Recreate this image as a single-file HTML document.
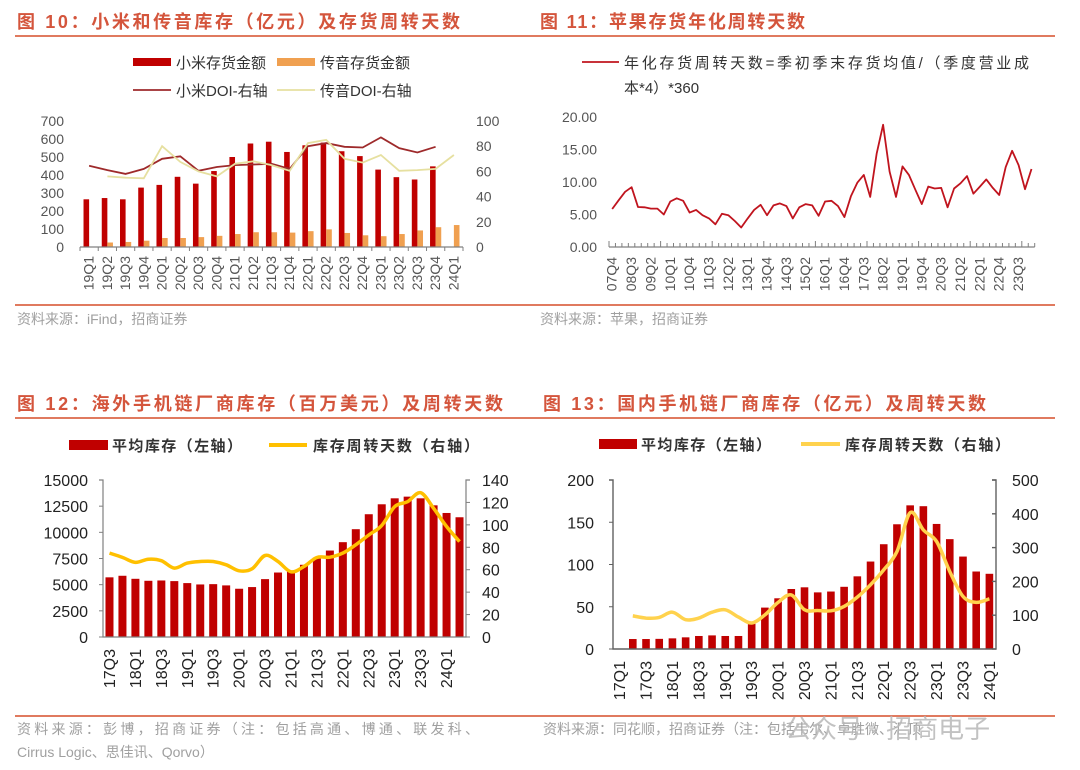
<!DOCTYPE html>
<html><head><meta charset="utf-8">
<style>
html,body{margin:0;padding:0;background:#fff;}
svg{display:block;font-family:"Liberation Sans","Noto Sans CJK SC",sans-serif;}
.ttl{font-size:18px;font-weight:bold;fill:#D4553C;}
.lg{font-size:15px;fill:#333;}
.src{font-size:14px;fill:#A0A0A0;}
.tk{font-size:14px;fill:#555;}
.tk2{font-size:16px;fill:#222;}
</style></head>
<body>
<svg id="chart" width="1080" height="770" viewBox="0 0 1080 770" xmlns="http://www.w3.org/2000/svg">
<rect x="0" y="0" width="1080" height="770" fill="#fff"/>
<!-- Panel 1 static -->
<text class="ttl" x="17" y="28" textLength="443" lengthAdjust="spacing">图 10：小米和传音库存（亿元）及存货周转天数</text>
<line x1="15" y1="36" x2="540" y2="36" stroke="#E07A5F" stroke-width="2"/>
<rect x="133" y="58" width="38" height="8" fill="#C00000"/>
<text class="lg" x="176" y="68">小米存货金额</text>
<rect x="277" y="58" width="38" height="8" fill="#F0A050"/>
<text class="lg" x="320" y="68">传音存货金额</text>
<line x1="133" y1="90" x2="171" y2="90" stroke="#9E2A2B" stroke-width="1.8"/>
<text class="lg" x="176" y="96">小米DOI-右轴</text>
<line x1="277" y1="90" x2="315" y2="90" stroke="#E6E0A0" stroke-width="1.8"/>
<text class="lg" x="320" y="96">传音DOI-右轴</text>
<line x1="15" y1="305" x2="540" y2="305" stroke="#E07A5F" stroke-width="2"/>
<text class="src" x="17" y="324">资料来源：iFind，招商证券</text>
<!-- Panel 2 static -->
<text class="ttl" x="540" y="28" textLength="265" lengthAdjust="spacing">图 11：苹果存货年化周转天数</text>
<line x1="540" y1="36" x2="1055" y2="36" stroke="#E07A5F" stroke-width="2"/>
<line x1="582" y1="62" x2="619" y2="62" stroke="#C0141E" stroke-width="1.8"/>
<text class="lg" x="624" y="68" textLength="405" lengthAdjust="spacing">年化存货周转天数=季初季末存货均值/（季度营业成</text>
<text class="lg" x="624" y="93">本*4）*360</text>
<line x1="540" y1="305" x2="1055" y2="305" stroke="#E07A5F" stroke-width="2"/>
<text class="src" x="540" y="324">资料来源：苹果，招商证券</text>
<!-- Panel 3 static -->
<text class="ttl" x="17" y="410" textLength="486" lengthAdjust="spacing">图 12：海外手机链厂商库存（百万美元）及周转天数</text>
<line x1="15" y1="418" x2="540" y2="418" stroke="#E07A5F" stroke-width="2"/>
<rect x="69" y="440" width="39" height="10" fill="#C00000"/>
<text class="lg" x="112" y="451" font-weight="bold" textLength="130" lengthAdjust="spacing">平均库存（左轴）</text>
<line x1="269" y1="445" x2="307" y2="445" stroke="#FFC000" stroke-width="4"/>
<text class="lg" x="313" y="451" font-weight="bold" textLength="166" lengthAdjust="spacing">库存周转天数（右轴）</text>
<line x1="15" y1="716" x2="540" y2="716" stroke="#E07A5F" stroke-width="2"/>
<text class="src" x="17" y="734" textLength="462" lengthAdjust="spacing">资料来源：彭博，招商证券（注：包括高通、博通、联发科、</text>
<text class="src" x="17" y="757">Cirrus Logic、思佳讯、Qorvo）</text>
<!-- Panel 4 static -->
<text class="ttl" x="543" y="410" textLength="443" lengthAdjust="spacing">图 13：国内手机链厂商库存（亿元）及周转天数</text>
<line x1="540" y1="418" x2="1055" y2="418" stroke="#E07A5F" stroke-width="2"/>
<rect x="599" y="439" width="38" height="10" fill="#C00000"/>
<text class="lg" x="641" y="450" font-weight="bold" textLength="130" lengthAdjust="spacing">平均库存（左轴）</text>
<line x1="801" y1="444" x2="840" y2="444" stroke="#FFD24D" stroke-width="4"/>
<text class="lg" x="845" y="450" font-weight="bold" textLength="165" lengthAdjust="spacing">库存周转天数（右轴）</text>
<line x1="540" y1="716" x2="1055" y2="716" stroke="#E07A5F" stroke-width="2"/>
<text class="src" x="543" y="734">资料来源：同花顺，招商证券（注：包括韦尔、卓胜微、汇顶</text>
<text x="785" y="738" font-size="26" fill="#B8B8B8" opacity="0.85">公众号 · 招商电子</text>
<g id="dyn"></g>
</svg>
<script>
// ---------- Fig 10 data ----------
const p1Cats = ['19Q1','19Q2','19Q3','19Q4','20Q1','20Q2','20Q3','20Q4','21Q1','21Q2','21Q3','21Q4','22Q1','22Q2','22Q3','22Q4','23Q1','23Q2','23Q3','23Q4','24Q1'];
const p1XiaomiInv = [265,272,265,330,345,390,352,422,500,575,585,528,565,580,532,505,430,388,375,448,null];
const p1TranssionInv = [null,25,28,35,50,50,55,62,72,82,82,80,88,98,78,65,60,72,92,110,122];
const p1XiaomiDoi = [64.5,61,58,62,70,72,60.5,63.5,65,65.5,66,62,80,82.5,79.5,79,87,78.5,75,79.5,null];
const p1TranssionDoi = [null,56,55,54.5,80,67.5,60,56,66,68,65,60.5,82.5,85,70,67,73,60.5,61,62,73];
const p1LeftTicks = [0,100,200,300,400,500,600,700];
const p1RightTicks = [0,20,40,60,80,100];
// ---------- Fig 11 data ----------
const p2Values = [5.85,7.2,8.5,9.2,6.15,6.1,5.9,5.9,5.0,7.0,7.5,7.1,5.3,5.7,4.9,4.4,3.5,5.1,4.9,4.0,3.0,4.4,5.7,6.5,4.9,6.4,6.7,6.3,4.4,6.1,6.6,6.4,4.8,
 7.0,7.1,6.3,4.6,7.8,9.9,11.1,7.7,14.4,18.8,11.6,7.7,12.4,11.1,8.8,6.6,9.3,9.0,9.1,6.1,9.0,9.8,10.9,8.2,9.3,10.4,9.1,8.0,12.3,14.8,12.6,8.9,12.0];
const p2StartYear = 2007, p2StartQ = 4;
const p2Ticks = [0,5,10,15,20];
const p2TickLabels = ['0.00','5.00','10.00','15.00','20.00'];
// ---------- Fig 12 data ----------
const p3Cats = ['17Q3','17Q4','18Q1','18Q2','18Q3','18Q4','19Q1','19Q2','19Q3','19Q4','20Q1','20Q2','20Q3','20Q4','21Q1','21Q2','21Q3','21Q4','22Q1','22Q2','22Q3','22Q4','23Q1','23Q2','23Q3','23Q4','24Q1','24Q2'];
const p3Inventory = [5700,5850,5560,5370,5400,5340,5150,5020,5050,4930,4610,4770,5530,6160,6300,6900,7600,8260,9060,10300,11730,12680,13250,13410,13250,12580,11850,11440];
const p3Turnover = [74.8,71,66.5,69.4,68,61.4,65.9,67.3,67.3,64.4,59,60.8,72.7,67.3,58.1,62.9,70.9,71.2,74.8,82.2,91,99.4,116.3,120.7,128.7,114.8,98.5,85.1];
const p3LeftTicks = [0,2500,5000,7500,10000,12500,15000];
const p3RightTicks = [0,20,40,60,80,100,120,140];
// ---------- Fig 13 data ----------
const p4Cats = ['17Q1','17Q2','17Q3','17Q4','18Q1','18Q2','18Q3','18Q4','19Q1','19Q2','19Q3','19Q4','20Q1','20Q2','20Q3','20Q4','21Q1','21Q2','21Q3','21Q4','22Q1','22Q2','22Q3','22Q4','23Q1','23Q2','23Q3','23Q4','24Q1'];
const p4Inventory = [null,11.8,11.8,12,12.6,13.8,15.4,16.1,15.4,15.4,30,49,60,71,73,67,68,73.6,86,103.5,124,147.6,170,169,148,130,109.4,91.7,89];
const p4Turnover = [null,98,91.5,93.5,109,86.6,91.5,109,116,94.5,77,101,138,160,116,114,113,126,153.5,190,234,288,403.5,352,318,229,155.5,138,148.6];
const p4LeftTicks = [0,50,100,150,200];
const p4RightTicks = [0,100,200,300,400,500];

const NS = 'http://www.w3.org/2000/svg';
const root = document.getElementById('dyn');
function mk(tag, attrs, txt){
  const e = document.createElementNS(NS, tag);
  for (const k in attrs) e.setAttribute(k, attrs[k]);
  if (txt !== undefined) e.textContent = txt;
  root.appendChild(e);
  return e;
}
function lin(v, d0, d1, r0, r1){ return r0 + (v - d0) / (d1 - d0) * (r1 - r0); }
function band(i, x0, x1, n){ return x0 + (i + 0.5) * (x1 - x0) / n; }
function polyPath(pts){ return pts.map((p,i)=>(i?'L':'M')+p[0].toFixed(1)+','+p[1].toFixed(1)).join(''); }
function smoothPath(pts){
  if (pts.length < 2) return '';
  let d = 'M'+pts[0][0].toFixed(1)+','+pts[0][1].toFixed(1);
  for (let i=0;i<pts.length-1;i++){
    const p0 = pts[i-1]||pts[i], p1 = pts[i], p2 = pts[i+1], p3 = pts[i+2]||p2;
    const c1 = [p1[0]+(p2[0]-p0[0])/6, p1[1]+(p2[1]-p0[1])/6];
    const c2 = [p2[0]-(p3[0]-p1[0])/6, p2[1]-(p3[1]-p1[1])/6];
    d += 'C'+c1[0].toFixed(1)+','+c1[1].toFixed(1)+' '+c2[0].toFixed(1)+','+c2[1].toFixed(1)+' '+p2[0].toFixed(1)+','+p2[1].toFixed(1);
  }
  return d;
}
function seriesPoints(vals, x0, x1, y0, y1, d0, d1){
  const pts=[]; vals.forEach((v,i)=>{ if(v!==null) pts.push([band(i,x0,x1,vals.length), lin(v,d0,d1,y0,y1)]); }); return pts;
}

// ================= Fig 10 =================
(function(){
  const X0=80, X1=463, Y0=247, Y1=121, n=p1Cats.length, w=(X1-X0)/n;
  p1LeftTicks.forEach(t=>{
    const e = mk('text',{x:64,y:lin(t,0,700,Y0,Y1)+5,'text-anchor':'end',class:'tk'}, String(t));
    
    
  });
  p1RightTicks.forEach(t=>{
    const e = mk('text',{x:476,y:lin(t,0,100,Y0,Y1)+5,class:'tk'}, String(t));
    
    
  });
  p1XiaomiInv.forEach((v,i)=>{
    if(v===null) return;
    const y = lin(v,0,700,Y0,Y1);
    const e = mk('rect',{x:band(i,X0,X1,n)-2.8-2.8,y:y,width:5.6,height:Y0-y,fill:'#C00000'});
    
    
  });
  p1TranssionInv.forEach((v,i)=>{
    if(v===null) return;
    const y = lin(v,0,700,Y0,Y1);
    const e = mk('rect',{x:band(i,X0,X1,n),y:y,width:5.6,height:Y0-y,fill:'#F0A050'});
    
    
  });
  const ax = mk('line',{x1:X0,y1:Y0,x2:X1,y2:Y0,stroke:'#808080','stroke-width':1.2});
  
  
  for(let i=0;i<=n;i++){
    const t = mk('line',{x1:X0+i*w,y1:Y0,x2:X0+i*w,y2:Y0+4,stroke:'#808080','stroke-width':1});
    
    
  }
  p1Cats.forEach((c,i)=>{
    const x = band(i,X0,X1,n)+4.5, y = Y0+9;
    const e = mk('text',{x:x,y:y,transform:'rotate(-90 '+x+' '+y+')','text-anchor':'end',class:'tk','font-size':13}, c);
    
    
  });
  const l1 = mk('path',{d:polyPath(seriesPoints(p1XiaomiDoi,X0,X1,Y0,Y1,0,100)),fill:'none',stroke:'#9E2A2B','stroke-width':1.8});
  
  
  const l2 = mk('path',{d:polyPath(seriesPoints(p1TranssionDoi,X0,X1,Y0,Y1,0,100)),fill:'none',stroke:'#E6E0A0','stroke-width':1.8});
  
  
})();

// ================= Fig 11 =================
(function(){
  const n=p2Values.length, X0=609, X1=609+n*6.45, Y0=247, Y1=117, w=(X1-X0)/n;
  const cats=[]; let yr=p2StartYear, q=p2StartQ;
  for(let i=0;i<n;i++){ cats.push(String(yr%100).padStart(2,'0')+'Q'+q); q++; if(q>4){q=1;yr++;} }
  p2Ticks.forEach((t,k)=>{
    const e = mk('text',{x:597,y:lin(t,0,20,Y0,Y1)+5,'text-anchor':'end',class:'tk'}, p2TickLabels[k]);
    
    
  });
  const ax = mk('line',{x1:X0,y1:Y0,x2:X1,y2:Y0,stroke:'#808080','stroke-width':1.2});
  
  
  for(let i=0;i<=n;i++){
    const t = mk('line',{x1:X0+i*w,y1:Y0,x2:X0+i*w,y2:Y0-(i%8===0?6:4),stroke:'#808080','stroke-width':1});
    
    
  }
  cats.forEach((c,i)=>{
    if(i%3!==0) return;
    const x = band(i,X0,X1,n)+4.5, y = Y0+10;
    const e = mk('text',{x:x,y:y,transform:'rotate(-90 '+x+' '+y+')','text-anchor':'end',class:'tk','font-size':13}, c);
    
    
  });
  const l = mk('path',{d:polyPath(seriesPoints(p2Values,X0,X1,Y0,Y1,0,20)),fill:'none',stroke:'#C0141E','stroke-width':1.8,'stroke-linejoin':'round'});
  
  
})();

// ================= Fig 12 =================
(function(){
  const X0=103, X1=466, Y0=637, Y1=480, n=p3Cats.length, w=(X1-X0)/n;
  p3LeftTicks.forEach(t=>{
    const e = mk('text',{x:88,y:lin(t,0,15000,Y0,Y1)+6,'text-anchor':'end',class:'tk2'}, String(t));
    
    
  });
  p3RightTicks.forEach(t=>{
    const e = mk('text',{x:482,y:lin(t,0,140,Y0,Y1)+6,class:'tk2'}, String(t));
    
    
  });
  p3Inventory.forEach((v,i)=>{
    const y = lin(v,0,15000,Y0,Y1);
    const e = mk('rect',{x:band(i,X0,X1,n)-4,y:y,width:8,height:Y0-y,fill:'#C00000'});
    
    
  });
  const axes = mk('path',{d:'M'+(X0-4)+','+Y1+'H'+X0+'V'+Y0+'H'+X1+'V'+Y1+'H'+(X1+4),fill:'none',stroke:'#808080','stroke-width':1.2});
  
  
  p3LeftTicks.forEach(t=>{
    const y=lin(t,0,15000,Y0,Y1);
    const e = mk('line',{x1:X0-4,y1:y,x2:X0,y2:y,stroke:'#808080','stroke-width':1});
    
    
  });
  p3RightTicks.forEach(t=>{
    const y=lin(t,0,140,Y0,Y1);
    const e = mk('line',{x1:X1,y1:y,x2:X1+4,y2:y,stroke:'#808080','stroke-width':1});
    
    
  });
  p3Cats.forEach((c,i)=>{
    if(i%2!==0) return;
    const x = band(i,X0,X1,n)+5.5, y = Y0+12;
    const e = mk('text',{x:x,y:y,transform:'rotate(-90 '+x+' '+y+')','text-anchor':'end',class:'tk2','font-size':15}, c);
    
    
  });
  const l = mk('path',{d:smoothPath(seriesPoints(p3Turnover,X0,X1,Y0,Y1,0,140)),fill:'none',stroke:'#FFC000','stroke-width':3.5,'stroke-linejoin':'round'});
  
  
})();

// ================= Fig 13 =================
(function(){
  const X0=613, X1=996, Y0=649, Y1=480, n=p4Cats.length, w=(X1-X0)/n;
  p4LeftTicks.forEach(t=>{
    const e = mk('text',{x:594,y:lin(t,0,200,Y0,Y1)+6,'text-anchor':'end',class:'tk2','font-size':17}, String(t));
    
    
  });
  p4RightTicks.forEach(t=>{
    const e = mk('text',{x:1012,y:lin(t,0,500,Y0,Y1)+6,class:'tk2','font-size':17,fill:'#444'}, String(t));
    
    
  });
  p4Inventory.forEach((v,i)=>{
    if(v===null) return;
    const y = lin(v,0,200,Y0,Y1);
    const e = mk('rect',{x:band(i,X0,X1,n)-3.8,y:y,width:7.6,height:Y0-y,fill:'#C00000'});
    
    
  });
  const axes = mk('path',{d:'M'+(X0-4)+','+Y1+'H'+X0+'V'+Y0+'H'+X1+'V'+Y1+'H'+(X1-4),fill:'none',stroke:'#606060','stroke-width':1.4});
  
  
  p4LeftTicks.forEach(t=>{
    const y=lin(t,0,200,Y0,Y1);
    const e = mk('line',{x1:X0-4,y1:y,x2:X0,y2:y,stroke:'#606060','stroke-width':1});
    
    
  });
  p4RightTicks.forEach(t=>{
    const y=lin(t,0,500,Y0,Y1);
    const e = mk('line',{x1:X1-4,y1:y,x2:X1,y2:y,stroke:'#606060','stroke-width':1.4});
    
    
  });
  p4Cats.forEach((c,i)=>{
    if(i%2!==0) return;
    const x = band(i,X0,X1,n)+5.5, y = Y0+12;
    const e = mk('text',{x:x,y:y,transform:'rotate(-90 '+x+' '+y+')','text-anchor':'end',class:'tk2','font-size':15}, c);
    
    
  });
  const l = mk('path',{d:smoothPath(seriesPoints(p4Turnover,X0,X1,Y0,Y1,0,500)),fill:'none',stroke:'#FFD24D','stroke-width':3.5,'stroke-linejoin':'round'});
  
  
})();
</script>
</body></html>
